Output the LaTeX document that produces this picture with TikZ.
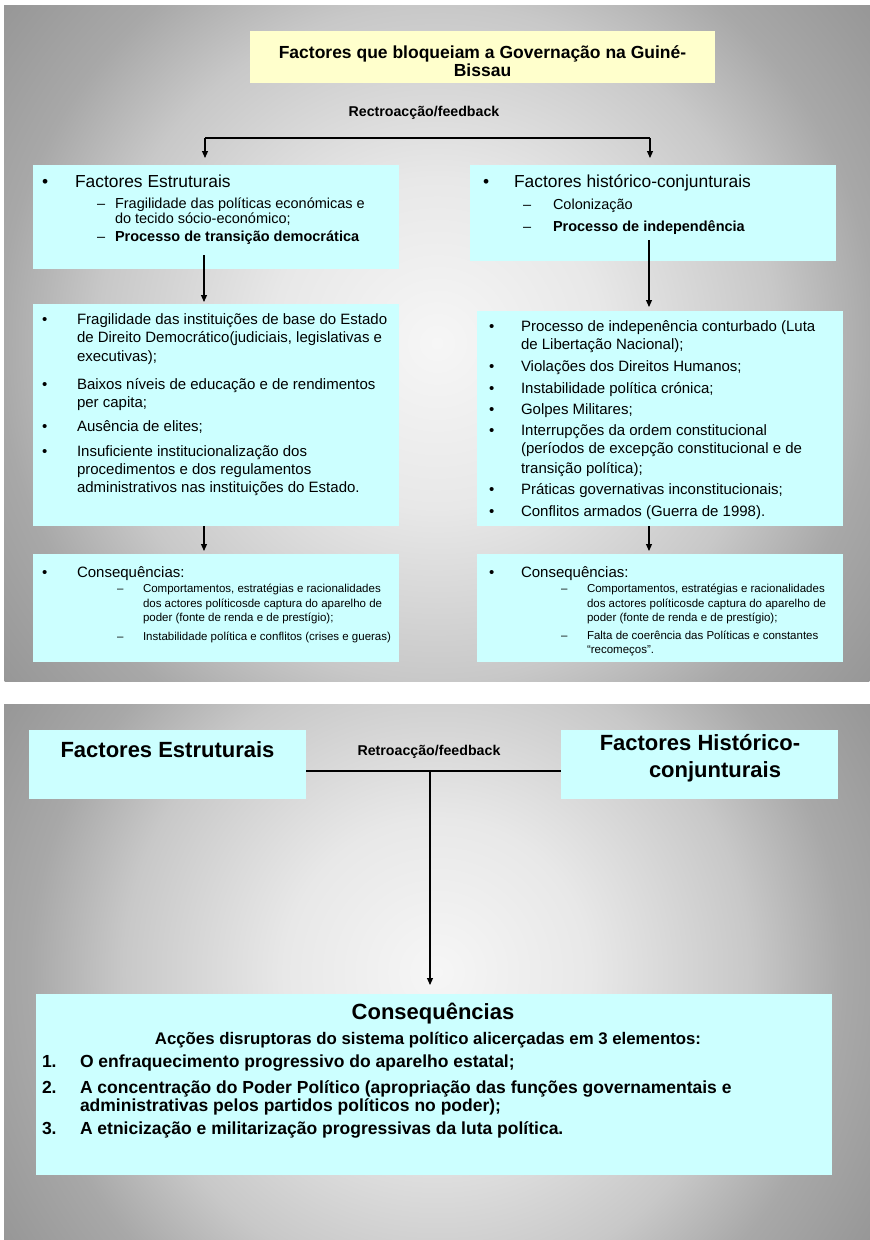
\documentclass[tikz,border=0pt]{standalone}
\usepackage{fontspec}
\setmainfont{Liberation Sans}
\usetikzlibrary{arrows.meta}
\definecolor{boxcyan}{HTML}{CCFFFF}
\definecolor{boxyellow}{HTML}{FFFFCC}
\definecolor{bgA}{HTML}{F6F6F6}
\definecolor{bgB}{HTML}{E8E8E8}
\definecolor{bgC}{HTML}{C8C8C8}
\definecolor{bgD}{HTML}{A8A8A8}
\definecolor{bgE}{HTML}{979797}
\pgfdeclareradialshading{slideshade}{\pgfpoint{0bp}{0bp}}{color(0bp)=(bgA); color(7.5bp)=(bgB); color(15.4bp)=(bgC); color(20bp)=(bgD); color(25bp)=(bgE); color(50bp)=(bgE)}
\tikzset{
  cbox/.style={fill=boxcyan, draw=none, inner sep=0pt, outer sep=0pt, anchor=north west},
  ybox/.style={fill=boxyellow, draw=none, inner sep=0pt, outer sep=0pt, anchor=north west},
  txt/.style={inner sep=0pt, outer sep=0pt, anchor=base west, text=black},
  ctxt/.style={inner sep=0pt, outer sep=0pt, anchor=base, text=black},
  hA/.style={txt, font=\fontsize{17.4pt}{18pt}\selectfont},
  sB/.style={txt, font=\fontsize{14.5pt}{15pt}\selectfont},
  sBb/.style={txt, font=\fontsize{14.5pt}{15pt}\selectfont\bfseries},
  lC/.style={txt, font=\fontsize{15pt}{18pt}\selectfont},
  sD/.style={txt, font=\fontsize{11.5pt}{14pt}\selectfont},
  ttl/.style={ctxt, font=\fontsize{17.5pt}{18pt}\selectfont\bfseries},
  fbk/.style={ctxt, font=\fontsize{14.2pt}{15pt}\selectfont\bfseries},
  big/.style={ctxt, font=\fontsize{22pt}{24pt}\selectfont\bfseries},
  cq/.style={txt, font=\fontsize{17.5pt}{18pt}\selectfont\bfseries},
  cqc/.style={ctxt, font=\fontsize{16.8pt}{18pt}\selectfont\bfseries},
  ln/.style={line width=1.1pt, draw=black},
  arr/.style={line width=1.1pt, draw=black, -{Triangle[length=7pt,width=6pt]}},
}
\begin{document}
\begin{tikzpicture}[x=1pt,y=-1pt]
\useasboundingbox (0,0) rectangle (870,1240);
\fill[white] (0,0) rectangle (870,1240);
% slide backgrounds
\begin{scope}
  \clip (4,5) rectangle (870,681);
  \shade[shading=slideshade] (437,343) circle (549pt);
\end{scope}
\begin{scope}
  \clip (4,704) rectangle (870,1240);
  \shade[shading=slideshade] (437,972) circle (509pt);
\end{scope}

% ===== top slide boxes =====
\node[ybox, minimum width=465pt, minimum height=52pt] (T) at (250,31) {};
\node[cbox, minimum width=366pt, minimum height=104pt] (L1) at (33,165) {};
\node[cbox, minimum width=366pt, minimum height=96pt] (R1) at (470,165) {};
\node[cbox, minimum width=366pt, minimum height=222pt] (L2) at (33,304) {};
\node[cbox, minimum width=366pt, minimum height=215pt] (R2) at (477,311) {};
\node[cbox, minimum width=366pt, minimum height=108pt] (L3) at (33,554) {};
\node[cbox, minimum width=366pt, minimum height=108pt] (R3) at (477,554) {};

% connectors top slide
\coordinate (fbL) at (205,138);
\coordinate (fbR) at (650,138);
\draw[ln] (fbL) -- (fbR);
\draw[arr, shorten >=7pt] (fbL) -- (fbL |- L1.north);
\draw[arr, shorten >=7pt] (fbR) -- (fbR |- R1.north);
\coordinate (sL) at (204,255);
\coordinate (sR) at (649,240);
\draw[arr, shorten >=2pt] (sL) -- (sL |- L2.north);
\draw[arr, shorten >=4pt] (sR) -- (sR |- R2.north);
\draw[arr, shorten >=3pt] (sL |- L2.south) -- (sL |- L3.north);
\draw[arr, shorten >=3pt] (sR |- R2.south) -- (sR |- R3.north);

% title texts
\node[ttl] (t1) at (482.5,58) {Factores que bloqueiam a Governação na Guiné-};
\node[ttl] (t2) at (482.5,76) {Bissau};
\node[fbk] (fb1) at (424,116) {Rectroacção/feedback};

% left box 1
\node[hA] (l1b) at (42,187.5) {•};
\node[hA] (l1h) at (75,187.5) {Factores Estruturais};
\node[sB] (l1d1) at (97,208) {–};
\node[sB] (l1a) at (115,208) {Fragilidade das políticas económicas e};
\node[sB] (l1b2) at (115,223) {do tecido sócio-económico;};
\node[sB] (l1d2) at (97,241) {–};
\node[sBb] (l1c) at (115,241) {Processo de transição democrática};

% right box 1
\node[hA] (r1b) at (483,187.5) {•};
\node[hA] (r1h) at (514,187.5) {Factores histórico-conjunturais};
\node[sB] (r1d1) at (523,209.5) {–};
\node[sB] (r1a) at (553,209.5) {Colonização};
\node[sB] (r1d2) at (523,231) {–};
\node[sBb] (r1c) at (553,231) {Processo de independência};

% left box 2
\node[lC] (l2b1) at (42,324.5) {•};
\node[lC] (l2a1) at (77,324.5) {Fragilidade das instituições de base do Estado};
\node[lC] (l2a2) at (77,342.5) {de Direito Democrático(judiciais, legislativas e};
\node[lC] (l2a3) at (77,361.5) {executivas);};
\node[lC] (l2b2) at (42,389.5) {•};
\node[lC] (l2c1) at (77,389.5) {Baixos níveis de educação e de rendimentos};
\node[lC] (l2c2) at (77,407.5) {per capita;};
\node[lC] (l2b3) at (42,431.5) {•};
\node[lC] (l2d1) at (77,431.5) {Ausência de elites;};
\node[lC] (l2b4) at (42,456.5) {•};
\node[lC] (l2e1) at (77,456.5) {Insuficiente institucionalização dos};
\node[lC] (l2e2) at (77,474.5) {procedimentos e dos regulamentos};
\node[lC] (l2e3) at (77,492.5) {administrativos nas instituições do Estado.};

% right box 2
\node[lC] (r2b1) at (489,331) {•};
\node[lC] (r2a1) at (521,331) {Processo de indepenência conturbado (Luta};
\node[lC] (r2a2) at (521,349) {de Libertação Nacional);};
\node[lC] (r2b2) at (489,371) {•};
\node[lC] (r2c1) at (521,371) {Violações dos Direitos Humanos;};
\node[lC] (r2b3) at (489,393) {•};
\node[lC] (r2d1) at (521,393) {Instabilidade política crónica;};
\node[lC] (r2b4) at (489,414) {•};
\node[lC] (r2e1) at (521,414) {Golpes Militares;};
\node[lC] (r2b5) at (489,435.5) {•};
\node[lC] (r2f1) at (521,435.5) {Interrupções da ordem constitucional};
\node[lC] (r2f2) at (521,453.5) {(períodos de excepção constitucional e de};
\node[lC] (r2f3) at (521,473) {transição política);};
\node[lC] (r2b6) at (489,494.5) {•};
\node[lC] (r2g1) at (521,494.5) {Práticas governativas inconstitucionais;};
\node[lC] (r2b7) at (489,516) {•};
\node[lC] (r2h1) at (521,516) {Conflitos armados (Guerra de 1998).};

% left box 3
\node[lC] (l3b) at (42,577) {•};
\node[lC] (l3h) at (77,577) {Consequências:};
\node[sD] (l3d1) at (117,592) {–};
\node[sD] (l3a1) at (143,592) {Comportamentos, estratégias e racionalidades};
\node[sD] (l3a2) at (143,607) {dos actores políticosde captura do aparelho de};
\node[sD] (l3a3) at (143,621) {poder (fonte de renda e de prestígio);};
\node[sD] (l3d2) at (117,640) {–};
\node[sD] (l3c1) at (143,640) {Instabilidade política e conflitos (crises e gueras)};

% right box 3
\node[lC] (r3b) at (489,577) {•};
\node[lC] (r3h) at (521,577) {Consequências:};
\node[sD] (r3d1) at (561,592) {–};
\node[sD] (r3a1) at (587,592) {Comportamentos, estratégias e racionalidades};
\node[sD] (r3a2) at (587,607) {dos actores políticosde captura do aparelho de};
\node[sD] (r3a3) at (587,621) {poder (fonte de renda e de prestígio);};
\node[sD] (r3d2) at (561,639.5) {–};
\node[sD] (r3c1) at (587,639.5) {Falta de coerência das Políticas e constantes};
\node[sD] (r3c2) at (587,653.5) {“recomeços”.};

% ===== bottom slide =====
\node[cbox, minimum width=277pt, minimum height=69pt] (BL) at (29,730) {};
\node[cbox, minimum width=277pt, minimum height=69pt] (BR) at (561,730) {};
\node[cbox, minimum width=796pt, minimum height=181pt] (BC) at (36,994) {};

\coordinate (jn) at (430,771);
\draw[ln] (BL.east |- jn) -- (BR.west |- jn);
\draw[arr, shorten >=9pt] (jn) -- (jn |- BC.north);

\node[big] (blt) at (167.5,757) {Factores Estruturais};
\node[big] (brt1) at (700,750) {Factores Histórico-};
\node[big] (brt2) at (715,777) {conjunturais};
\node[fbk] (fb2) at (429,755) {Retroacção/feedback};

\node[big] (cqt) at (433,1019) {Consequências};
\node[cqc] (cqs) at (428,1044) {Acções disruptoras do sistema político alicerçadas em 3 elementos:};
\node[cq] (n1) at (42,1067) {1.};
\node[cq] (i1) at (80,1067) {O enfraquecimento progressivo do aparelho estatal;};
\node[cq] (n2) at (42,1093) {2.};
\node[cq] (i2a) at (80,1093) {A concentração do Poder Político (apropriação das funções governamentais e};
\node[cq] (i2b) at (80,1111) {administrativas pelos partidos políticos no poder);};
\node[cq] (n3) at (42,1134) {3.};
\node[cq] (i3) at (80,1134) {A etnicização e militarização progressivas da luta política.};
\end{tikzpicture}
\end{document}
